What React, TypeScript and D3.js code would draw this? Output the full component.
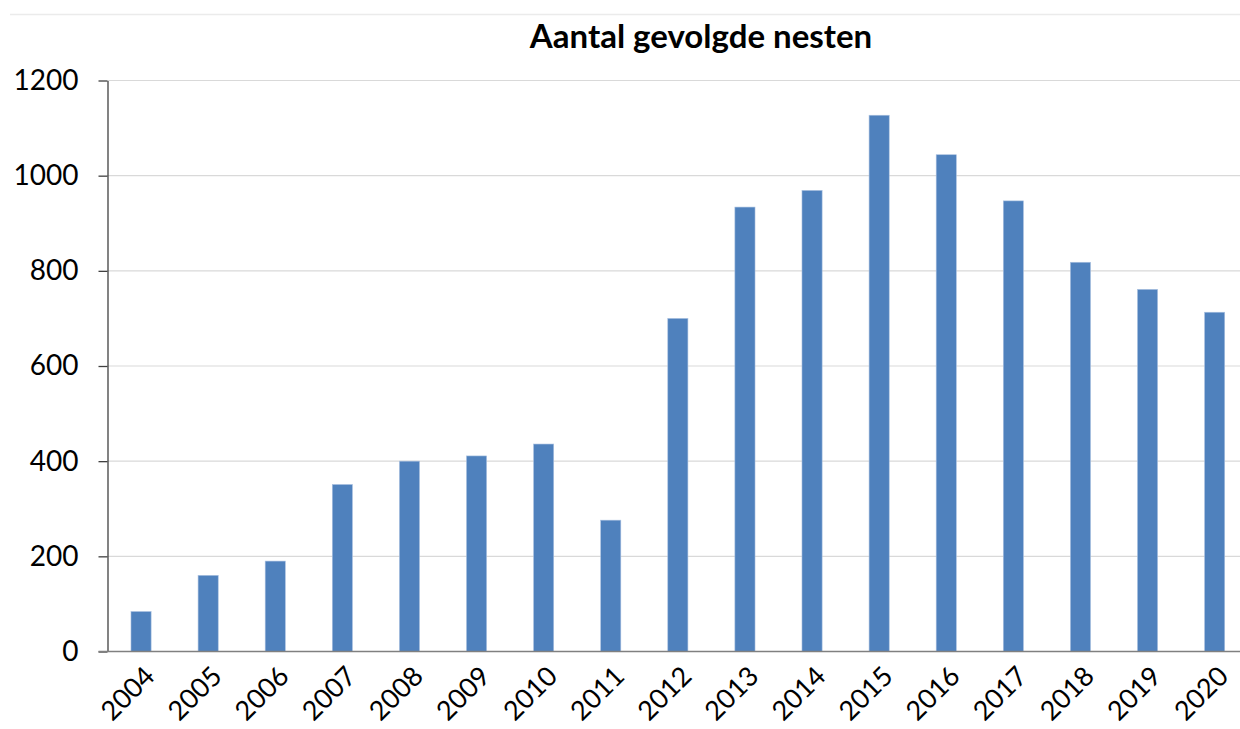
import React, { useEffect, useRef } from 'react';
import * as d3 from 'd3';

const years = ['2004', '2005', '2006', '2007', '2008', '2009', '2010', '2011', '2012', '2013', '2014', '2015', '2016', '2017', '2018', '2019', '2020'];
const nests = [84, 160, 190, 351, 400, 411, 436, 276, 700, 934, 969, 1127, 1044, 947, 818, 761, 713];
const yTicks = [0, 200, 400, 600, 800, 1000, 1200];
const title = 'Aantal gevolgde nesten';

const App = () => {
  const svgRef = useRef<SVGSVGElement>(null);

  useEffect(() => {
    document.body.style.margin = '0';
    const width = 1240;
    const height = 729;
    const margin = { top: 80.5, right: 0, bottom: 77.5, left: 107.5 };
    const plotW = 17 * 67.1;
    const chartHeight = height - margin.top - margin.bottom;

    const svg = d3.select(svgRef.current).attr('width', width).attr('height', height);
    svg.selectAll('*').remove();

    const font = 'Lato, "Open Sans", sans-serif';

    // outer chart border (top edge only visible)
    svg.append('line')
      .attr('x1', 10).attr('x2', width)
      .attr('y1', 14.5).attr('y2', 14.5)
      .attr('stroke', '#ebebeb').attr('stroke-width', 1.5);

    const x = d3.scaleBand()
      .domain(years)
      .range([0, plotW])
      .paddingInner(0.7)
      .paddingOuter(0.35);

    const y = d3.scaleLinear()
      .domain([0, 1200])
      .range([chartHeight, 0]);

    const g = svg.append('g').attr('transform', `translate(${margin.left},${margin.top})`);

    g.selectAll('.grid')
      .data(yTicks.filter(d => d > 0))
      .enter()
      .append('line')
      .attr('class', 'grid')
      .attr('x1', 0).attr('x2', width)
      .attr('y1', d => y(d)).attr('y2', d => y(d))
      .attr('stroke', '#d9d9d9').attr('stroke-width', 1.2);

    g.selectAll('.bar')
      .data(nests)
      .enter()
      .append('rect')
      .attr('class', 'bar')
      .attr('x', (d, i) => x(years[i])!)
      .attr('y', d => y(d))
      .attr('width', x.bandwidth())
      .attr('height', d => chartHeight - y(d))
      .style('fill', '#4f81bd')
      .style('stroke', '#a9c0e0')
      .style('stroke-width', 0.6);

    // y axis
    const yAxis = g.append('g')
      .call(d3.axisLeft(y).tickValues(yTicks).tickFormat(d3.format('d')).tickSize(9).tickSizeOuter(0).tickPadding(20));
    yAxis.select('.domain').attr('stroke', '#404040').attr('stroke-width', 1.3);
    yAxis.selectAll('.tick line').attr('stroke', '#404040').attr('stroke-width', 1.3);
    yAxis.selectAll('.tick text')
      .attr('font-family', font)
      .attr('font-size', 28)
      .attr('fill', '#000');

    // x axis
    g.append('line')
      .attr('x1', -9).attr('x2', width)
      .attr('y1', chartHeight).attr('y2', chartHeight)
      .attr('stroke', '#808080').attr('stroke-width', 1.3);

    g.selectAll('.xlabel')
      .data(years)
      .enter()
      .append('text')
      .attr('class', 'xlabel')
      .attr('transform', d => `translate(${x(d)! + x.bandwidth() / 2 + 2},${chartHeight + 13}) rotate(-45)`)
      .attr('text-anchor', 'end')
      .attr('dy', '0.7em')
      .attr('font-family', font)
      .attr('font-size', 27)
      .attr('fill', '#000')
      .text(d => d);

    svg.append('text')
      .attr('x', 701)
      .attr('y', 48)
      .attr('text-anchor', 'middle')
      .attr('font-family', font)
      .attr('font-weight', 'bold')
      .attr('font-size', 33)
      .attr('fill', '#000')
      .text(title);
  }, []);

  return (
    <div>
      <svg ref={svgRef} style={{ display: 'block' }}></svg>
    </div>
  );
};

export default App;
